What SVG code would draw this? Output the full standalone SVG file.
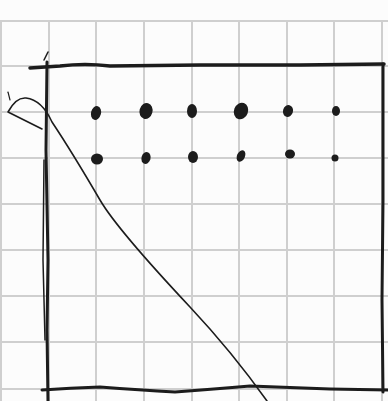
<svg xmlns="http://www.w3.org/2000/svg" width="388" height="401" viewBox="0 0 388 401">
<style>
.grid{stroke:#cfcfcf;stroke-width:2;fill:none}
.ink{stroke:#1c1c1c;fill:none;stroke-linecap:round;stroke-linejoin:round}
.dot{fill:#1c1c1c}
</style>
<rect width="388" height="401" fill="#fcfcfc"/>
<g id="grid" class="grid">
<path d="M1 20V401M49 20V401M96 20V401M144 20V401M192 20V401M239 20V401M287 20V401M334 20V401M382 20V401"/>
<path d="M0 21H388M0 66H388M0 112H388M0 158H388M0 204H388M0 250H388M0 296H388M0 342H388M0 389H388"/>
</g>
<g id="frame" class="ink">
<path d="M30 68 L60 66 Q85 63 110 66 L200 65 L300 65 L384 64" stroke-width="3.5"/>
<path d="M47 62 L46 150 L48 260 L47 330 L48 401" stroke-width="3"/>
<path d="M44 160 L43 260 L45 340" stroke-width="1.5"/>
<path d="M42 390 Q70 388 100 387 Q140 390 175 392 Q215 389 250 386 L330 389 L388 390" stroke-width="3"/>
<path d="M383 64 L383 200 L382 300 L383 392" stroke-width="3"/>
<path d="M44 60 L48 52" stroke-width="1.5"/>
</g>
<g id="curve" class="ink" stroke-width="1.6">
<path d="M42 129 L8 112 Q16 97 26 98 Q42 100 52 122 C62 137 86 176 100 200 S160 275 190 307 S245 370 267 401"/>
<path d="M8 92 L10 100" stroke-width="1.2"/>
</g>
<g id="dots">
<ellipse class="dot" cx="96" cy="113" rx="5" ry="7" transform="rotate(15 96 113)"/>
<ellipse class="dot" cx="146" cy="111" rx="6.5" ry="8" transform="rotate(15 146 111)"/>
<ellipse class="dot" cx="192" cy="111" rx="5" ry="7"/>
<ellipse class="dot" cx="241" cy="111" rx="7" ry="8.5" transform="rotate(20 241 111)"/>
<ellipse class="dot" cx="288" cy="111" rx="5" ry="6" transform="rotate(15 288 111)"/>
<ellipse class="dot" cx="336" cy="111" rx="4" ry="5"/>
<ellipse class="dot" cx="97" cy="159" rx="6" ry="5.5"/>
<ellipse class="dot" cx="146" cy="158" rx="4.5" ry="6" transform="rotate(15 146 158)"/>
<ellipse class="dot" cx="193" cy="157" rx="5" ry="6"/>
<ellipse class="dot" cx="241" cy="156" rx="4" ry="6" transform="rotate(25 241 156)"/>
<ellipse class="dot" cx="290" cy="154" rx="5" ry="4.5"/>
<ellipse class="dot" cx="335" cy="158" rx="3.5" ry="3.5"/>
</g>
</svg>
